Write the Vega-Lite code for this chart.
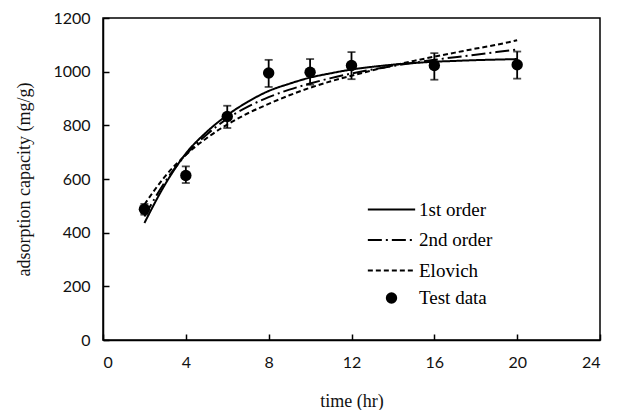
{
  "$schema": "https://vega.github.io/schema/vega-lite/v6.json",
  "width": 497,
  "height": 322,
  "autosize": "none",
  "padding": {"left": 103, "top": 18, "right": 17, "bottom": 70},
  "background": "white",
  "config": {
    "view": {"stroke": "black", "strokeWidth": 1.5},
    "axis": {
      "domainColor": "black", "domainWidth": 1.5,
      "grid": false,
      "labelFont": "Lato", "labelFontSize": 16, "labelColor": "#111",
      "titleFont": "Liberation Serif", "titleFontSize": 18, "titleFontWeight": "normal", "titleColor": "#111"
    }
  },
  "datasets": {
    "fits": [
      {"t": 2, "q": 436, "model": "1st order"}, {"t": 3, "q": 580, "model": "1st order"}, {"t": 4, "q": 695, "model": "1st order"}, {"t": 5, "q": 775, "model": "1st order"}, {"t": 6, "q": 838, "model": "1st order"}, {"t": 7, "q": 888, "model": "1st order"}, {"t": 8, "q": 928, "model": "1st order"}, {"t": 9, "q": 955, "model": "1st order"}, {"t": 10, "q": 978, "model": "1st order"}, {"t": 11, "q": 994, "model": "1st order"}, {"t": 12, "q": 1008, "model": "1st order"}, {"t": 13, "q": 1018, "model": "1st order"}, {"t": 14, "q": 1026, "model": "1st order"}, {"t": 15, "q": 1032, "model": "1st order"}, {"t": 16, "q": 1037, "model": "1st order"}, {"t": 17, "q": 1040, "model": "1st order"}, {"t": 18, "q": 1043, "model": "1st order"}, {"t": 19, "q": 1045, "model": "1st order"}, {"t": 20, "q": 1047, "model": "1st order"},
      {"t": 2, "q": 460, "model": "2nd order"}, {"t": 3, "q": 590, "model": "2nd order"}, {"t": 4, "q": 690, "model": "2nd order"}, {"t": 5, "q": 765, "model": "2nd order"}, {"t": 6, "q": 825, "model": "2nd order"}, {"t": 7, "q": 870, "model": "2nd order"}, {"t": 8, "q": 905, "model": "2nd order"}, {"t": 9, "q": 933, "model": "2nd order"}, {"t": 10, "q": 956, "model": "2nd order"}, {"t": 11, "q": 976, "model": "2nd order"}, {"t": 12, "q": 993, "model": "2nd order"}, {"t": 13, "q": 1008, "model": "2nd order"}, {"t": 14, "q": 1021, "model": "2nd order"}, {"t": 15, "q": 1033, "model": "2nd order"}, {"t": 16, "q": 1044, "model": "2nd order"}, {"t": 17, "q": 1054, "model": "2nd order"}, {"t": 18, "q": 1063, "model": "2nd order"}, {"t": 19, "q": 1073, "model": "2nd order"}, {"t": 20, "q": 1083, "model": "2nd order"},
      {"t": 2, "q": 505, "model": "Elovich"}, {"t": 3, "q": 610, "model": "Elovich"}, {"t": 4, "q": 690, "model": "Elovich"}, {"t": 5, "q": 752, "model": "Elovich"}, {"t": 6, "q": 803, "model": "Elovich"}, {"t": 7, "q": 845, "model": "Elovich"}, {"t": 8, "q": 880, "model": "Elovich"}, {"t": 9, "q": 912, "model": "Elovich"}, {"t": 10, "q": 940, "model": "Elovich"}, {"t": 11, "q": 964, "model": "Elovich"}, {"t": 12, "q": 985, "model": "Elovich"}, {"t": 13, "q": 1005, "model": "Elovich"}, {"t": 14, "q": 1023, "model": "Elovich"}, {"t": 15, "q": 1040, "model": "Elovich"}, {"t": 16, "q": 1056, "model": "Elovich"}, {"t": 17, "q": 1071, "model": "Elovich"}, {"t": 18, "q": 1086, "model": "Elovich"}, {"t": 19, "q": 1100, "model": "Elovich"}, {"t": 20, "q": 1117, "model": "Elovich"}
    ],
    "obs": [
      {"t": 2, "q": 487, "lo": 467, "hi": 507, "label": "Test data"},
      {"t": 4, "q": 613, "lo": 585, "hi": 647, "label": "Test data"},
      {"t": 6, "q": 833, "lo": 790, "hi": 873, "label": "Test data"},
      {"t": 8, "q": 995, "lo": 943, "hi": 1044, "label": "Test data"},
      {"t": 10, "q": 998, "lo": 951, "hi": 1047, "label": "Test data"},
      {"t": 12, "q": 1023, "lo": 972, "hi": 1073, "label": "Test data"},
      {"t": 16, "q": 1023, "lo": 970, "hi": 1069, "label": "Test data"},
      {"t": 20, "q": 1026, "lo": 974, "hi": 1075, "label": "Test data"}
    ]
  },
  "layer": [
    {
      "data": {"name": "fits"},
      "mark": {"type": "line", "color": "black", "strokeWidth": 2, "interpolate": "monotone"},
      "encoding": {
        "x": {"field": "t", "type": "quantitative", "scale": {"domain": [0, 24], "nice": false},
              "axis": {"values": [0, 4, 8, 12, 16, 20, 24], "title": "time (hr)", "tickSize": -6, "tickColor": "black", "tickWidth": 1.5, "labelPadding": 20, "titlePadding": 22}},
        "y": {"field": "q", "type": "quantitative", "scale": {"domain": [0, 1200], "nice": false},
              "axis": {"values": [0, 200, 400, 600, 800, 1000, 1200], "format": "d", "title": "adsorption capacity (mg/g)", "tickSize": -6, "tickColor": "black", "tickWidth": 1.5, "labelPadding": 19, "titlePadding": 19}},
        "strokeDash": {"field": "model", "type": "nominal",
          "scale": {"domain": ["1st order", "2nd order", "Elovich"], "range": [[1, 0], [14, 4, 2, 4], [5, 3]]},
          "legend": {"title": null, "orient": "none", "legendX": 279, "legendY": 182,
            "symbolType": "M-4,0L4,0", "symbolSize": 140, "symbolStrokeWidth": 2, "symbolStrokeColor": "black",
            "labelFont": "Liberation Serif", "labelFontSize": 19, "labelColor": "black", "labelOffset": 18, "rowPadding": 10.5, "padding": 0}}
      }
    },
    {
      "data": {"name": "obs"},
      "mark": {"type": "rule", "color": "black", "strokeWidth": 1.8},
      "encoding": {
        "x": {"field": "t", "type": "quantitative"},
        "y": {"field": "lo", "type": "quantitative"},
        "y2": {"field": "hi"}
      }
    },
    {
      "data": {"name": "obs"},
      "mark": {"type": "tick", "color": "black", "orient": "horizontal", "size": 8, "thickness": 1.8},
      "encoding": {
        "x": {"field": "t", "type": "quantitative"},
        "y": {"field": "lo", "type": "quantitative"}
      }
    },
    {
      "data": {"name": "obs"},
      "mark": {"type": "tick", "color": "black", "orient": "horizontal", "size": 8, "thickness": 1.8},
      "encoding": {
        "x": {"field": "t", "type": "quantitative"},
        "y": {"field": "hi", "type": "quantitative"}
      }
    },
    {
      "data": {"name": "obs"},
      "mark": {"type": "point", "filled": true, "color": "black", "size": 130, "opacity": 1},
      "encoding": {
        "x": {"field": "t", "type": "quantitative"},
        "y": {"field": "q", "type": "quantitative"},
        "shape": {"field": "label", "type": "nominal", "scale": {"range": ["circle"]},
          "legend": {"title": null, "orient": "none", "legendX": 279, "legendY": 270.5,
            "symbolFillColor": "black", "symbolStrokeWidth": 0, "symbolSize": 130, "symbolOpacity": 1,
            "labelFont": "Liberation Serif", "labelFontSize": 19, "labelColor": "black", "labelOffset": 18, "padding": 0}}
      }
    }
  ]
}
